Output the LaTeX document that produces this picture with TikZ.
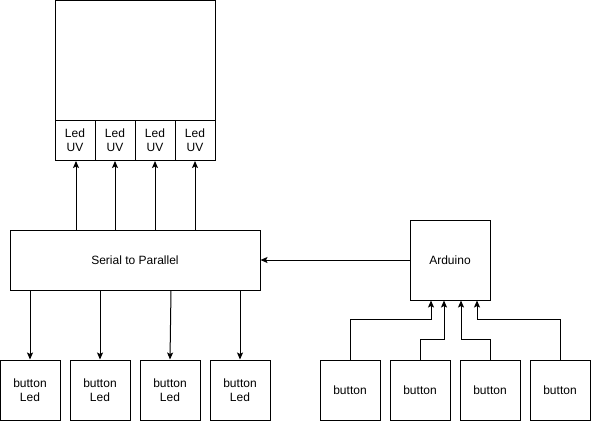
\documentclass[tikz,border=0pt]{standalone}
\usepackage{fontspec}
\setmainfont{Liberation Sans}
\usetikzlibrary{arrows.meta}
\begin{document}
\begin{tikzpicture}[x=1pt,y=-1pt,
  box/.style={draw, line width=1pt, inner sep=0pt, align=center, font=\fontsize{12}{14}\selectfont},
  arr/.style={-{Stealth[length=7pt,width=6pt,inset=1.5pt]}, line width=1pt}]
\useasboundingbox (0,0) rectangle (591,421);
\fill[white] (0,0) rectangle (591,421);
% screen and LED cells
\node[box, minimum width=160pt, minimum height=120pt] (screen) at (135,60.5) {};
\foreach \i/\x in {1/75,2/115,3/155,4/195}
  \node[box, minimum width=40pt, minimum height=40pt] (led\i) at (\x,140.5) {Led\\UV};
% serial to parallel
\node[box, minimum width=250pt, minimum height=60pt] (serial) at (135,260) {Serial to Parallel};
% button leds
\foreach \i/\x in {1/30,2/100,3/170,4/240}
  \node[box, minimum width=60pt, minimum height=60pt] (bl\i) at (\x,390) {button\\Led};
% arduino
\node[box, minimum width=80pt, minimum height=80pt] (ard) at (450,260) {Arduino};
% buttons
\foreach \i/\x in {1/350,2/420,3/490,4/560}
  \node[box, minimum width=60pt, minimum height=60pt] (b\i) at (\x,390) {button};
% connectors
\foreach \i/\dx in {1/1,2/0,3/0,4/0}
  \draw[arr] ([xshift=\dx pt]serial.north -| led\i) -- ([xshift=\dx pt]led\i.south);
\draw[arr] (serial.south -| bl1) -- (bl1.north);
\draw[arr] (serial.south -| bl2) -- (bl2.north);
\draw[arr] ([xshift=1pt]serial.south -| bl3) -- (bl3.north);
\draw[arr] (serial.south -| bl4) -- (bl4.north);
\draw[arr] (ard.west) -- (serial.east);
\draw[arr] (b1.north) -- ++(0,-40) -| ([xshift=-19pt]ard.south);
\draw[arr] (b2.north) -- ++(0,-20) -| ([xshift=-6pt]ard.south);
\draw[arr] (b3.north) -- ++(0,-20) -| ([xshift=11pt]ard.south);
\draw[arr] (b4.north) -- ++(0,-40) -| ([xshift=27pt]ard.south);
\end{tikzpicture}
\end{document}
